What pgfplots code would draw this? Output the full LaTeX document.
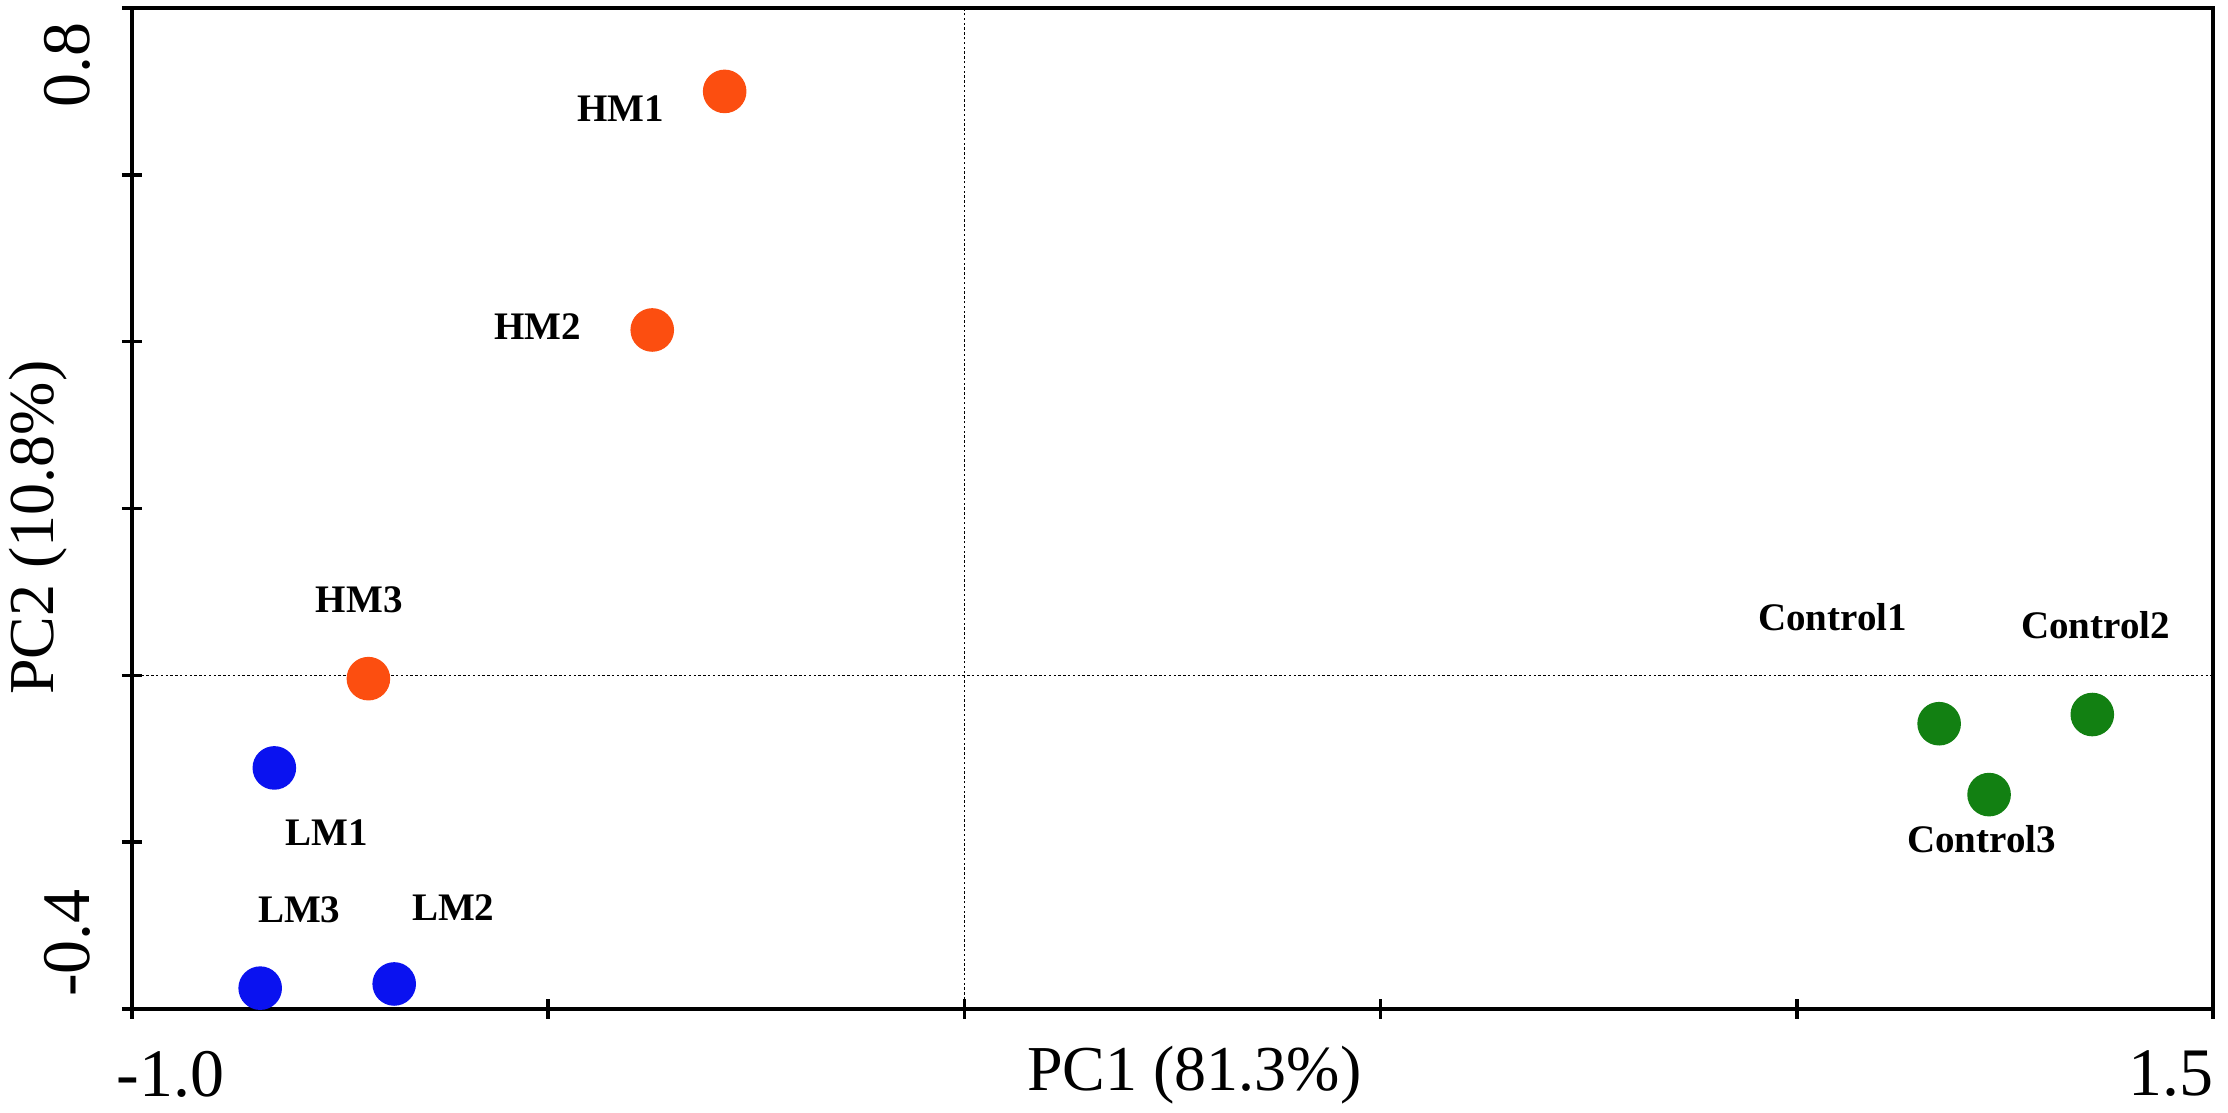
\documentclass[border=0pt]{standalone}
\usepackage{fontspec}
\setmainfont{Liberation Serif}
\usepackage{pgfplots}
\pgfplotsset{compat=1.18}
\definecolor{hm}{RGB}{252,78,16}
\definecolor{lm}{RGB}{10,18,240}
\definecolor{ct}{RGB}{18,128,18}
\tikzset{lbl/.style={font=\fontsize{9.75}{9.75}\selectfont\bfseries, inner sep=0pt}}
\begin{document}
\begin{tikzpicture}
\begin{axis}[name=ax, scale only axis, width=520.25pt, height=250.25pt,
  xmin=-1, xmax=1.5, ymin=-0.4, ymax=0.8,
  axis line style={line width=0.9pt},
  every tick/.style={black, line width=0.9pt},
  major tick length=5pt, tick align=center, tick pos=left,
  xtick={-1,-0.5,0,0.5,1,1.5},
  xticklabels={\makebox[0pt][l]{\hspace{-3.75pt}-1.0},,,,,\makebox[0pt][r]{1.5}},
  ytick={-0.4,-0.2,0,0.2,0.4,0.6,0.8},
  yticklabels={\makebox[0pt][l]{\hspace{3pt}-0.4},,,,,,\makebox[0pt][r]{0.8\hspace{3.75pt}}},
  xticklabel style={font=\fontsize{17}{17}\selectfont, anchor=north, inner sep=0pt, yshift=-7.75pt},
  yticklabel style={font=\fontsize{17}{17}\selectfont, xshift=-7.75pt, rotate=90, anchor=south, inner sep=0pt},
  xlabel={PC1 (81.3\%)}, ylabel={PC2 (10.8\%)},
  every axis x label/.style={at={(axis description cs:0.5,0)}, xshift=5.5pt, yshift=-20.5pt, anchor=base, font=\fontsize{16}{16}\selectfont},
  every axis y label/.style={at={(axis description cs:0,0.5)}, xshift=-19.5pt, yshift=-4.75pt, rotate=90, anchor=base, font=\fontsize{16}{16}\selectfont},
]
\addplot[black, line width=0.4pt, dash pattern=on 0.6pt off 0.6pt] coordinates {(0,-0.4) (0,0.8)};
\addplot[black, line width=0.4pt, dash pattern=on 0.6pt off 0.6pt] coordinates {(-1,0) (1.5,0)};
\addplot[only marks, mark=*, mark size=5.25pt, mark options={draw=hm, fill=hm}] coordinates {(-0.288,0.700) (-0.375,0.414) (-0.716,-0.004)};
\addplot[only marks, mark=*, mark size=5.25pt, mark options={draw=lm, fill=lm}] coordinates {(-0.829,-0.111) (-0.685,-0.370) (-0.846,-0.375)};
\addplot[only marks, mark=*, mark size=5.25pt, mark options={draw=ct, fill=ct}] coordinates {(1.171,-0.058) (1.355,-0.047) (1.231,-0.143)};
\node[lbl] at (axis cs:-0.413,0.679) {HM1};
\node[lbl] at (axis cs:-0.513,0.418) {HM2};
\node[lbl] at (axis cs:-0.727,0.090) {HM3};
\node[lbl] at (axis cs:-0.766,-0.188) {LM1};
\node[lbl] at (axis cs:-0.614,-0.278) {LM2};
\node[lbl] at (axis cs:-0.799,-0.281) {LM3};
\node[lbl] at (axis cs:1.043,0.070) {Control1};
\node[lbl] at (axis cs:1.359,0.060) {Control2};
\node[lbl] at (axis cs:1.222,-0.197) {Control3};
\end{axis}
\pgfresetboundingbox
\path[use as bounding box] ([xshift=-33pt,yshift=-26pt]ax.south west) rectangle ([xshift=3.75pt,yshift=2pt]ax.north east);
\end{tikzpicture}
\end{document}
